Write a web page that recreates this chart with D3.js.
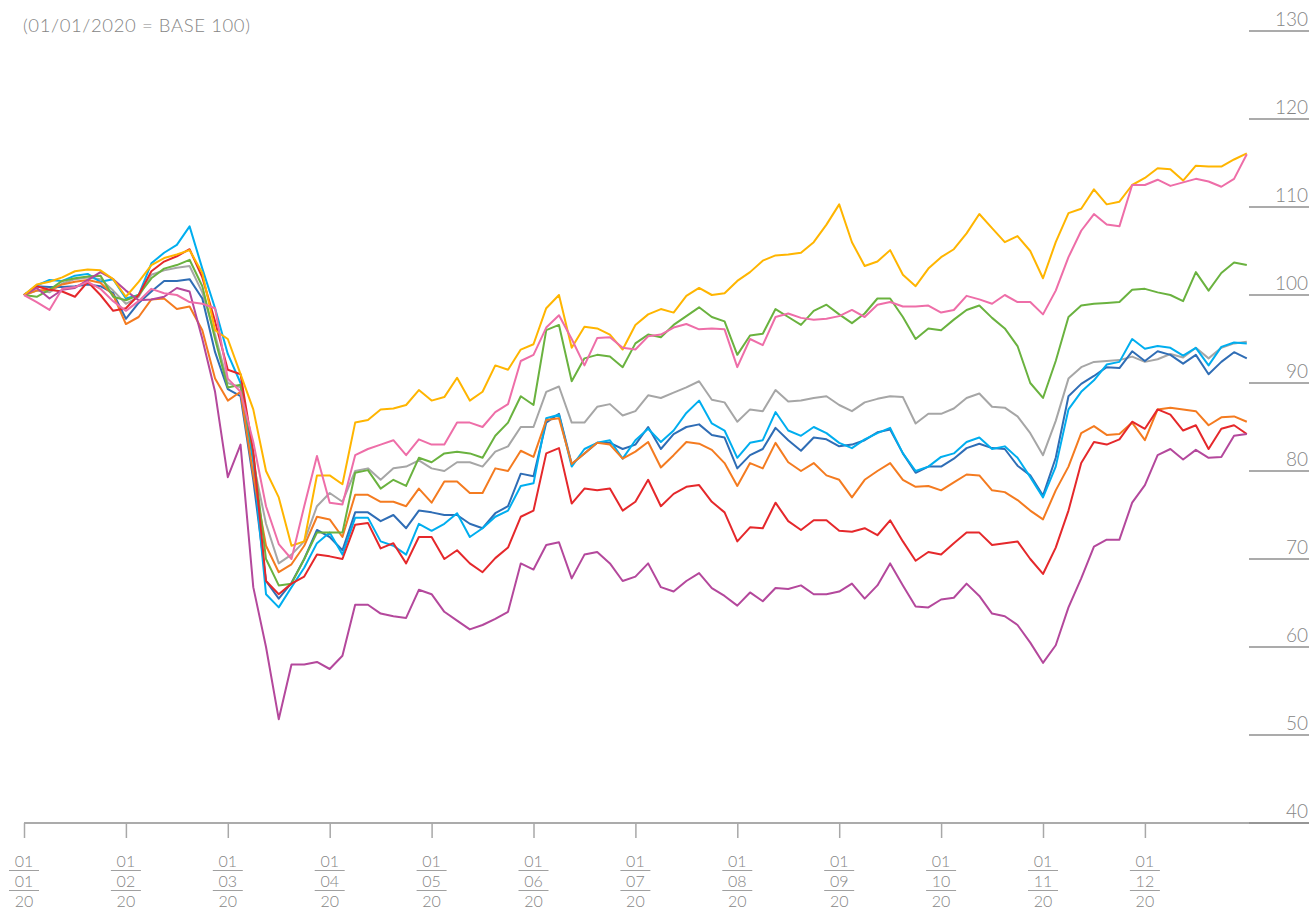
<!DOCTYPE html>
<html>
<head>
<meta charset="utf-8">
<script src="https://cdn.jsdelivr.net/npm/d3@7"></script>
<style>
  body { margin: 0; background: #fff; }
  svg { display: block; font-family: Lato, "Open Sans", sans-serif; font-weight: 300; }
</style>
</head>
<body>
<div id="chart"></div>
<script>
// month tick labels (day / month / year)
const tickDay = "01";
const tickMonths = ["01","02","03","04","05","06","07","08","09","10","11","12"];
const tickYear = "20";
const yTicks = [40, 50, 60, 70, 80, 90, 100, 110, 120, 130];

// sampled every 1/8 month, 01/01/2020 = 100
const yellow = [100,101.2,101.5,102,102.7,102.9,102.8,101.8,99.8,101.5,103.4,104.2,104.6,105.1,102.5,96,95,91,87,80,77,71.5,72,79.5,79.5,78.5,85.5,85.8,87,87.1,87.5,89.2,88,88.4,90.6,88,89,92,91.5,93.8,94.4,98.5,100,94,96.4,96.2,95.5,93.8,96.6,97.8,98.4,98,99.9,100.8,100,100.2,101.6,102.6,103.9,104.5,104.6,104.8,106,108,110.3,106,103.3,103.8,105.1,102.3,101,103,104.3,105.2,107,109.2,107.6,106,106.7,105,101.9,106,109.3,109.8,112,110.3,110.6,112.5,113.3,114.4,114.3,113,114.7,114.6,114.6,115.4,116.1];
const pink = [100,99.2,98.3,100.7,100.9,101.5,100.7,99.3,98.2,99.3,100.7,100.2,100,99.2,99,98.5,90.5,89,83.3,76,71.7,70,76,81.7,76.4,76.2,81.8,82.5,83,83.5,81.8,83.6,83,83,85.5,85.5,85,86.7,87.6,92.5,93.2,96.3,97.7,95,92,95.1,95.2,94,93.8,95.3,95.5,96.3,96.7,96.1,96.2,96.1,91.8,95,94.3,97.5,97.9,97.4,97.2,97.3,97.6,98.3,97.5,98.9,99.2,98.7,98.7,98.8,98,98.3,99.9,99.5,99,100,99.2,99.2,97.8,100.5,104.3,107.3,109.2,108,107.8,112.5,112.5,113.1,112.4,112.8,113.2,112.9,112.3,113.2,116];
const green = [100,99.8,100.6,101.6,101.9,102.1,102.2,99.8,99.4,100,101.9,103,103.4,104,101,95,89.5,89.8,82,70,67,67.2,70,73,73,73,79.8,80.1,78,79,78.3,81.5,81,82,82.2,82,81.5,84,85.5,88.5,87.5,96,96.6,90.2,92.8,93.2,93,91.8,94.5,95.5,95.2,96.6,97.6,98.6,97.5,97,93.2,95.4,95.6,98.4,97.5,96.6,98.2,98.9,97.8,96.8,97.9,99.6,99.6,97.5,95,96.2,96,97.2,98.3,98.8,97.4,96.2,94.2,90,88.3,92.5,97.5,98.8,99,99.1,99.2,100.6,100.7,100.3,100,99.3,102.6,100.5,102.5,103.7,103.4];
const grey = [100,100.5,100.3,101.3,101.8,102,101.8,100.5,99,99.8,102.3,102.8,103.1,103.3,100.3,95.5,90,89.5,81,74,69.5,70.5,72,76,77.5,76.5,80,80.3,79,80.3,80.5,81.2,80.3,80,81,81,80.5,82.2,82.8,85,85,89,89.6,85.5,85.5,87.3,87.6,86.3,86.8,88.6,88.3,88.9,89.5,90.2,88.1,87.8,85.6,87,86.8,89.2,87.9,88,88.3,88.5,87.5,86.8,87.8,88.2,88.5,88.4,85.4,86.5,86.5,87.1,88.3,88.8,87.3,87.2,86.2,84.3,81.8,85.7,90.5,91.8,92.4,92.5,92.6,93,92.4,92.7,93.3,92.9,94,92.8,94,94.5,94.7];
const lightBlue = [100,101.1,101.7,101.6,102.2,102.4,101.5,101.8,99.6,100,103.6,104.8,105.7,107.8,103,98.5,93.3,90,81,66,64.5,66.8,69,71.8,73,70.5,74.7,74.7,72,71.5,70.5,74,73.2,74,75.2,72.5,73.5,74.8,75.5,78.3,78.6,86,86.4,80.5,82.5,83.2,83.5,81.4,83.5,84.8,83.3,84.6,86.6,88,85.4,84.6,81.5,83.2,83.5,86.7,84.6,84,85,84.3,83.2,82.6,83.6,84.3,84.9,82,80,80.5,81.6,82,83.3,83.8,82.5,82.8,81.5,79.3,77,80.5,87,89,90.3,92.1,92.4,95,93.9,94.2,94,93.1,94,92,94.1,94.6,94.5];
const darkBlue = [100,101,100.9,100.9,101,101.2,101,100.2,97.3,99.1,100.4,101.6,101.6,101.8,99.6,93.5,89.3,88.5,79,67.5,65.5,67.3,70,73.3,72.5,71,75.3,75.3,74.3,75,73.5,75.5,75.3,75,75,74,73.5,75.2,76,79.7,79.4,85.5,86.5,80.8,82,83.2,83.2,82.5,83,85,82.5,84.2,85,85.3,84.1,83.8,80.3,81.8,82.5,84.9,83.5,82.3,83.8,83.6,82.8,83,83.5,84.4,84.7,82,79.8,80.5,80.5,81.4,82.6,83.1,82.6,82.5,80.6,79.5,77.2,81.5,88.5,89.9,90.8,91.8,91.7,93.6,92.5,93.6,93.2,92.2,93.2,91,92.4,93.5,92.8];
const orange = [100,100.5,100.6,101.2,101.5,101.7,101.4,100,96.7,97.5,99.5,99.6,98.4,98.7,96,90.5,88,89,79.5,71.5,68.5,69.4,71.5,74.8,74.5,72.5,77.3,77.3,76.5,76.5,76,78,76.4,78.8,78.8,77.5,77.5,80.3,80,82.3,81.6,85.8,86,80.8,82,83.2,83,81.4,82.2,83.3,80.4,81.8,83.3,83.1,82.4,80.9,78.3,80.9,80.3,83.2,81,80,80.9,79.5,79,77,79,80,80.9,79,78.2,78.3,77.8,78.7,79.6,79.5,77.8,77.6,76.7,75.5,74.5,77.8,80.5,84.3,85.1,84.1,84.2,85.5,83.5,87,87.2,87,86.8,85.2,86.1,86.2,85.6];
const red = [100,101,100.6,100.4,99.8,101.5,100,98.2,98.5,100,102.7,103.8,104.4,105.2,102,97,91.5,91,82.2,67.5,66,67.2,68,70.5,70.3,70,73.9,74.1,71.2,71.8,69.5,72.5,72.5,70,71,69.5,68.5,70.1,71.3,74.8,75.5,82,82.6,76.3,78,77.8,78,75.5,76.5,79,76,77.4,78.2,78.4,76.5,75.3,72,73.6,73.5,76.4,74.3,73.3,74.4,74.4,73.2,73.1,73.5,72.7,74.4,72,69.8,70.8,70.5,71.8,73,73,71.6,71.8,72,70,68.3,71.3,75.5,80.9,83.3,83,83.6,85.6,84.8,87,86.4,84.6,85.2,82.5,84.8,85.2,84.2];
const purple = [100,100.8,99.6,100.6,100.8,101.7,102.6,101.8,100.5,99.4,99.5,99.8,100.8,100.4,95,89,79.3,83,66.8,60,51.8,58,58,58.3,57.5,59,64.8,64.8,63.8,63.5,63.3,66.5,66,64,63,62,62.5,63.2,64,69.5,68.8,71.6,71.9,67.8,70.5,70.8,69.5,67.5,68,69.5,66.8,66.3,67.5,68.4,66.7,65.8,64.7,66.2,65.2,66.7,66.6,67,66,66,66.3,67.2,65.5,67,69.5,67,64.6,64.5,65.4,65.6,67.2,65.8,63.8,63.5,62.5,60.5,58.2,60.2,64.5,67.8,71.4,72.2,72.2,76.4,78.4,81.8,82.5,81.3,82.4,81.5,81.6,84,84.2];

// drawing order, back to front
const seriesData = [grey, darkBlue, lightBlue, orange, green, red, purple, yellow, pink];
const seriesColors = ["#a6a6a6", "#2f6db5", "#00aeef", "#f47b20", "#6ab23f", "#e5282b", "#b4489c", "#ffb500", "#ee6ea8"];

const width = 1312, height = 912;
const margin = {top: 31, right: 3, bottom: 89, left: 24};
const plotBottom = height - margin.bottom; // 823

const x = d3.scaleLinear()
  .domain([0, 12])
  .range([margin.left, margin.left + 12 * 101.9]);

const y = d3.scaleLinear()
  .domain([40, 130])
  .range([plotBottom, margin.top]);

const svg = d3.select("#chart").append("svg")
  .attr("width", width)
  .attr("height", height);

// subtitle
svg.append("text")
  .attr("x", 23)
  .attr("y", 32)
  .attr("fill", "#858585")
  .attr("font-size", 18.5)
  .attr("letter-spacing", 0.6)
  .text("(01/01/2020 = BASE 100)");

// right-hand value scale: short rule under each label
const yg = svg.append("g");
yg.selectAll("line")
  .data(yTicks)
  .join("line")
    .attr("x1", 1249).attr("x2", 1309)
    .attr("y1", d => y(d)).attr("y2", d => y(d))
    .attr("stroke", "#8f8f8f")
    .attr("stroke-width", 1.3);
yg.selectAll("text")
  .data(yTicks)
  .join("text")
    .attr("x", 1308)
    .attr("y", d => y(d) - 5)
    .attr("text-anchor", "end")
    .attr("fill", "#858585")
    .attr("font-size", 19)
    .text(d => d);

// bottom axis
svg.append("line")
  .attr("x1", margin.left).attr("x2", 1309)
  .attr("y1", plotBottom).attr("y2", plotBottom)
  .attr("stroke", "#8f8f8f")
  .attr("stroke-width", 1.3);

const xAxis = d3.axisBottom(x)
  .tickValues(d3.range(tickMonths.length))
  .tickSize(15)
  .tickFormat("");

svg.append("g")
  .attr("transform", `translate(0,${plotBottom})`)
  .call(xAxis)
  .call(g => g.select(".domain").remove())
  .call(g => g.selectAll(".tick line").attr("stroke", "#a8a8a8").attr("stroke-width", 1.5));

// stacked date labels 01 / mm / 20
const lab = svg.append("g")
  .selectAll("g")
  .data(tickMonths)
  .join("g")
    .attr("transform", (d, i) => `translate(${x(i)},0)`)
    .attr("fill", "#858585")
    .attr("font-size", 16)
    .attr("text-anchor", "middle");

lab.append("text").attr("y", 867).text(tickDay);
lab.append("text").attr("y", 887).text(d => d);
lab.append("text").attr("y", 907).text(tickYear);
lab.append("line")
  .attr("x1", -15).attr("x2", 15).attr("y1", 870.5).attr("y2", 870.5)
  .attr("stroke", "#a0a0a0").attr("stroke-width", 1);
lab.append("line")
  .attr("x1", -15).attr("x2", 15).attr("y1", 890.5).attr("y2", 890.5)
  .attr("stroke", "#a0a0a0").attr("stroke-width", 1);

// lines
const line = d3.line()
  .x((d, i) => x(i / 8))
  .y(d => y(d));

svg.append("g")
  .selectAll("path")
  .data(seriesData)
  .join("path")
    .attr("fill", "none")
    .attr("stroke", (d, i) => seriesColors[i])
    .attr("stroke-width", 2)
    .attr("stroke-linejoin", "round")
    .attr("d", line);
</script>
</body>
</html>
